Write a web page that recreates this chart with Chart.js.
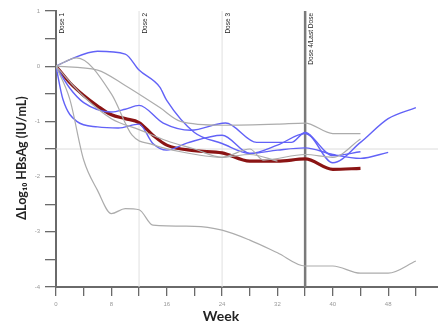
<!DOCTYPE html>
<html>
<head>
<meta charset="utf-8">
<script src="https://cdn.jsdelivr.net/npm/chart.js@4/dist/chart.umd.min.js"></script>
<style>
html,body{margin:0;padding:0;background:#fff;}
#c{display:block;}
</style>
</head>
<body>
<canvas id="c" width="438" height="327"></canvas>
<script>
// ---- data ----
const xTicks = [0,4,8,12,16,20,24,28,32,36,40,44,48,52];
const yTicks = [-4,-3.5,-3,-2.5,-2,-1.5,-1,-0.5,0,0.5,1];
const doseWeeks = [0,12,24,36];
const doseLabels = ['Dose 1','Dose 2','Dose 3','Dose 4/Last Dose'];
const refLevel = -1.5;

const g1Weeks = [0,2,4,6,8,10,12,14,20,24,28,32,36,40,44,48,52];
const g1Vals  = [0,-0.6,-1.7,-2.25,-2.67,-2.58,-2.6,-2.88,-2.9,-2.97,-3.15,-3.38,-3.62,-3.62,-3.75,-3.75,-3.53];
const g2Weeks = [0,3,8,11,14,18,24,28,30,36,40,44];
const g2Vals  = [0,0.15,-0.5,-1.25,-1.42,-1.55,-1.65,-1.5,-1.7,-1.6,-1.65,-1.32];
const g3Weeks = [0,6,10,15,18,24,32,36,40,44];
const g3Vals  = [0,-0.07,-0.35,-0.75,-1.0,-1.07,-1.05,-1.03,-1.22,-1.22];
const g4Weeks = [0,4,8,12,16,20,24,28,32];
const g4Vals  = [0,-0.55,-0.95,-1.15,-1.35,-1.5,-1.65,-1.6,-1.72];

const b1Weeks = [0,2,6,10,12,15,16,20,24,28,32,36,40,44,48];
const b1Vals  = [0,0.12,0.27,0.22,-0.07,-0.38,-0.62,-1.2,-1.4,-1.58,-1.52,-1.48,-1.6,-1.67,-1.56];
const b2Weeks = [0,2,4,8,10,12,15.5,19.5,24.5,29,34,36,40,44,48,52];
const b2Vals  = [0,-0.4,-0.66,-0.83,-0.78,-0.71,-1.03,-1.16,-1.03,-1.38,-1.38,-1.2,-1.75,-1.38,-0.95,-0.75];
const b3Weeks = [0,1,3,6,9,12,14,16,19,24,28,32,36,40,44];
const b3Vals  = [0,-0.6,-1.0,-1.1,-1.12,-1.05,-1.4,-1.52,-1.39,-1.25,-1.58,-1.43,-1.22,-1.62,-1.55];

const meanWeeks = [0,2,4,6,8,10,12,14,16,20,24,28,32,36,40,44];
const meanVals  = [0,-0.3,-0.53,-0.72,-0.88,-0.95,-1.02,-1.25,-1.43,-1.53,-1.57,-1.72,-1.72,-1.68,-1.87,-1.85];

const xTitle = 'Week';
const yTitle = 'ΔLog₁₀ HBsAg (IU/mL)';

// ---- build ----
const pts = (w, v) => w.map((x, i) => ({x: x, y: v[i]}));
const GREY = '#acacac', BLUE = '#6262f7', RED = '#8b1414';
function ds(w, v, color, width) {
  return {data: pts(w, v), borderColor: color, borderWidth: width, pointRadius: 0,
          cubicInterpolationMode: 'monotone', fill: false};
}
const datasets = [
  ds(g1Weeks, g1Vals, GREY, 1.2),
  ds(g2Weeks, g2Vals, GREY, 1.2),
  ds(g3Weeks, g3Vals, GREY, 1.2),
  ds(g4Weeks, g4Vals, GREY, 1.2),
  ds(b1Weeks, b1Vals, BLUE, 1.4),
  ds(b2Weeks, b2Vals, BLUE, 1.4),
  ds(b3Weeks, b3Vals, BLUE, 1.4),
  ds(meanWeeks, meanVals, RED, 3.2)
];

const refPlugin = {
  id: 'refs',
  beforeDatasetsDraw(chart) {
    const {ctx, chartArea: a, scales: {x, y}} = chart;
    ctx.save();
    const yy = y.getPixelForValue(refLevel);
    ctx.strokeStyle = '#dcdcdc'; ctx.lineWidth = 1;
    ctx.beginPath(); ctx.moveTo(a.left, yy); ctx.lineTo(a.right, yy); ctx.stroke();
    doseWeeks.forEach((w, i) => {
      const px = x.getPixelForValue(w);
      if (i > 0) {
        const last = i === doseWeeks.length - 1;
        ctx.strokeStyle = last ? '#7a7a7a' : '#e0e0e0';
        ctx.lineWidth = last ? 2.5 : 1;
        ctx.beginPath(); ctx.moveTo(px, a.top); ctx.lineTo(px, a.bottom); ctx.stroke();
      }
    });
    ctx.restore();
  },
  afterDraw(chart) {
    const {ctx, chartArea: a, scales: {x}} = chart;
    ctx.save();
    ctx.fillStyle = '#222';
    ctx.font = '6.5px "Liberation Sans", Arial, sans-serif';
    doseWeeks.forEach((w, i) => {
      const px = x.getPixelForValue(w);
      ctx.save();
      ctx.translate(px + 3, a.top + 2);
      ctx.rotate(-Math.PI / 2);
      ctx.textAlign = 'right'; ctx.textBaseline = 'top';
      ctx.fillText(doseLabels[i], 0, 0);
      ctx.restore();
    });
    ctx.fillStyle = '#222';
    ctx.font = 'bold 14px Lato, "DejaVu Sans", sans-serif';
    ctx.textAlign = 'center'; ctx.textBaseline = 'middle';
    ctx.fillText(xTitle, 221, 316);
    ctx.save();
    ctx.translate(22, 158);
    ctx.rotate(-Math.PI / 2);
    ctx.font = 'bold 12.5px Lato, "DejaVu Sans", sans-serif';
    ctx.fillText(yTitle, 0, 0);
    ctx.restore();
    ctx.restore();
  }
};

new Chart(document.getElementById('c'), {
  type: 'line',
  data: {datasets},
  options: {
    responsive: false,
    animation: false,
    devicePixelRatio: 1,
    layout: {padding: {top: 11, right: 0, left: 0, bottom: 0}},
    plugins: {legend: {display: false}, tooltip: {enabled: false}},
    scales: {
      x: {
        type: 'linear', min: 0, max: 55.2,
        border: {display: true, color: '#6a6a6a', width: 2},
        grid: {drawOnChartArea: false, color: '#6a6a6a', tickLength: 9, lineWidth: 1.3},
        ticks: {font: {size: 6, family: 'Liberation Sans'}, color: '#999', padding: 5, maxRotation: 0, autoSkip: false,
                callback: v => (v % 8 === 0 ? String(v) : '')},
        afterBuildTicks: s => { s.ticks = xTicks.map(v => ({value: v})); },
        afterFit: s => { s.height = 40; }
      },
      y: {
        type: 'linear', min: -4, max: 1,
        border: {display: true, color: '#6a6a6a', width: 2},
        grid: {drawOnChartArea: false, color: '#6a6a6a', tickLength: 11, lineWidth: 1.3},
        ticks: {font: {size: 6, family: 'Liberation Sans'}, color: '#999', padding: 5, autoSkip: false,
                callback: v => (Number.isInteger(v) ? String(v) : '')},
        afterBuildTicks: s => { s.ticks = yTicks.map(v => ({value: v})); },
        afterFit: s => { s.width = 56; }
      }
    }
  },
  plugins: [refPlugin]
});
</script>
</body>
</html>
